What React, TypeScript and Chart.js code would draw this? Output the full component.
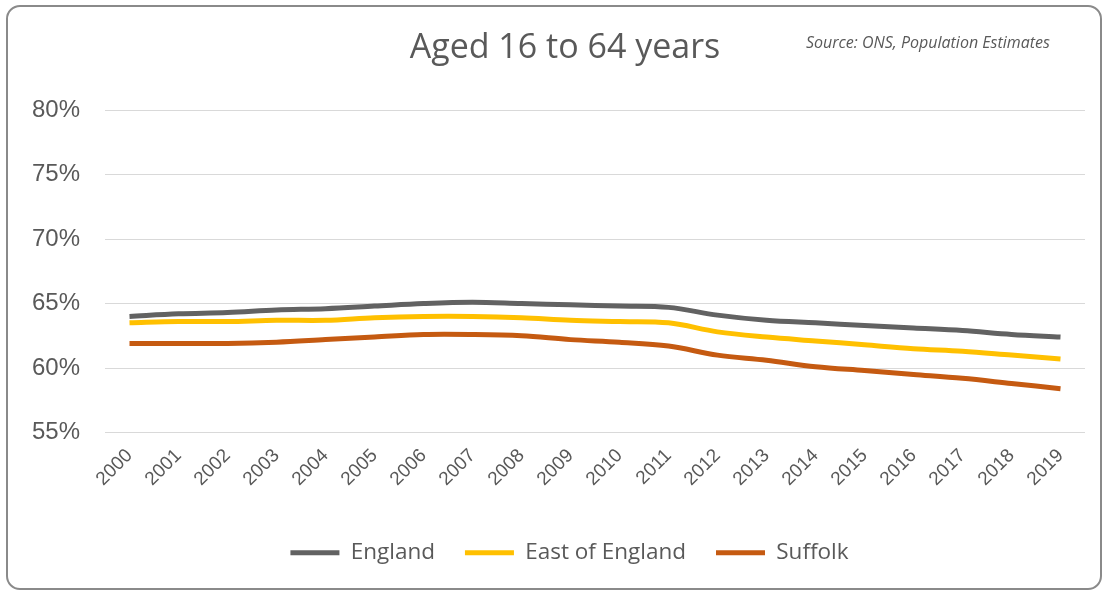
import React, { useEffect, useRef } from "react";
import { Chart, registerables } from "chart.js";

Chart.register(...registerables);

const years = ["2000","2001","2002","2003","2004","2005","2006","2007","2008","2009","2010","2011","2012","2013","2014","2015","2016","2017","2018","2019"];
const england = [64.0, 64.2, 64.3, 64.5, 64.6, 64.8, 65.0, 65.1, 65.0, 64.9, 64.8, 64.7, 64.1, 63.7, 63.5, 63.3, 63.1, 62.9, 62.6, 62.4];
const eastOfEngland = [63.5, 63.6, 63.6, 63.7, 63.7, 63.9, 64.0, 64.0, 63.9, 63.7, 63.6, 63.5, 62.8, 62.4, 62.1, 61.8, 61.5, 61.3, 61.0, 60.7];
const suffolk = [61.9, 61.9, 61.9, 62.0, 62.2, 62.4, 62.6, 62.6, 62.5, 62.2, 62.0, 61.7, 61.0, 60.6, 60.1, 59.8, 59.5, 59.2, 58.8, 58.4];
const seriesNames = ["England", "East of England", "Suffolk"];
const seriesColors = ["#626262", "#FFC000", "#C55A11"];
const titleText = "Aged 16 to 64 years";
const sourceText = "Source: ONS, Population Estimates";

const TEXT = "#595959";

const headerPlugin = {
  id: "header",
  afterLayout(chart: any) {
    if (chart.legend) {
      chart.legend.left += 12;
      chart.legend.right += 12;
    }
  },
  afterDraw(chart: any) {
    const ctx = chart.ctx;
    ctx.save();
    ctx.fillStyle = TEXT;
    ctx.textAlign = "center";
    ctx.textBaseline = "alphabetic";
    ctx.font = "34px 'Open Sans'";
    ctx.fillText(titleText, 565, 58);
    ctx.font = "italic 16px 'Open Sans'";
    ctx.textAlign = "left";
    ctx.fillText(sourceText, 806, 48);
    ctx.restore();
  },
};

export default function App() {
  const ref = useRef<HTMLCanvasElement | null>(null);
  useEffect(() => {
    if (!ref.current) return;
    const data = [england, eastOfEngland, suffolk];
    const chart = new Chart(ref.current, {
      type: "line",
      data: {
        labels: years,
        datasets: data.map((d, i) => ({
          label: seriesNames[i],
          data: d,
          borderColor: seriesColors[i],
          backgroundColor: seriesColors[i],
          borderWidth: 5,
          pointRadius: 0,
          tension: 0.35,
          fill: false,
        })),
      },
      options: {
        animation: false,
        responsive: false,
        maintainAspectRatio: false,
        layout: { padding: { left: 30, right: 21, top: 110, bottom: 20 } },
        plugins: {
          title: { display: false },
          tooltip: { enabled: false },
          legend: {
            position: "bottom",
            labels: {
              usePointStyle: true,
              pointStyle: "line",
              pointStyleWidth: 49,
              color: TEXT,
              font: { family: "'Open Sans'", size: 22.5 },
              padding: 30,
            },
          },
        },
        scales: {
          x: {
            offset: true,
            grid: { display: false },
            border: { display: false },
            ticks: {
              autoSkip: false,
              maxRotation: 45,
              minRotation: 45,
              color: TEXT,
              font: { family: "'Liberation Sans'", size: 19 },
              padding: 4,
            },
            afterFit(scale: any) {
              scale.height = 79;
            },
          },
          y: {
            min: 55,
            max: 80,
            border: { display: false },
            grid: { color: "#d9d9d9", lineWidth: 1, drawTicks: false },
            ticks: {
              stepSize: 5,
              color: TEXT,
              font: { family: "'Liberation Sans'", size: 24 },
              padding: 25,
              callback: (v: any) => v + "%",
            },
            afterFit(scale: any) {
              scale.width = 75;
            },
          },
        },
      },
      plugins: [headerPlugin],
    });
    return () => chart.destroy();
  }, []);

  return (
    <div style={{ position: "fixed", left: 0, top: 0, width: 1106, height: 594, background: "#fff" }}>
      <div
        style={{
          position: "absolute",
          left: 6,
          top: 5,
          width: 1096,
          height: 585,
          border: "2px solid #8a8a8a",
          borderRadius: 14,
          boxSizing: "border-box",
        }}
      />
      <canvas ref={ref} width={1106} height={594} style={{ position: "absolute", left: 0, top: 0 }} />
    </div>
  );
}
